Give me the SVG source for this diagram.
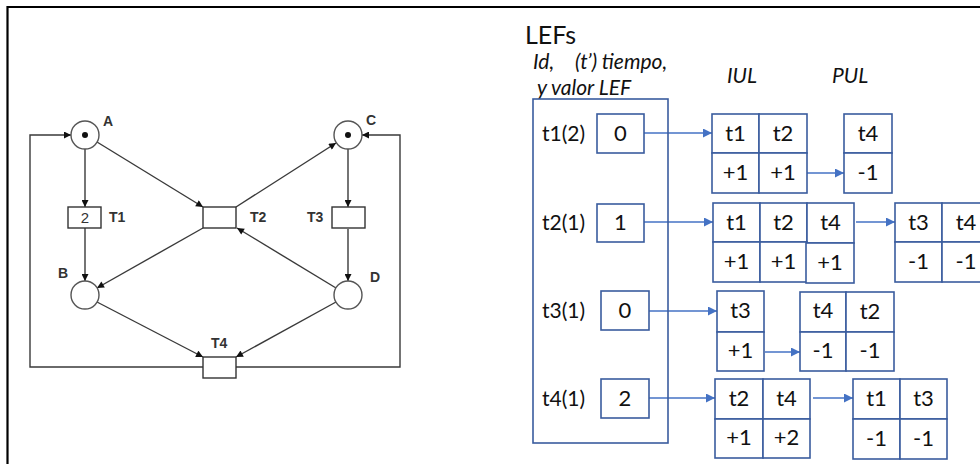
<svg xmlns="http://www.w3.org/2000/svg" width="980" height="464" viewBox="0 0 980 464">
<defs>
<style>
.pn{fill:none;stroke:#3a3a3a;stroke-width:1.4}
.pl{fill:#fff;stroke:#555;stroke-width:1.4}
.tr{fill:#fff;stroke:#333;stroke-width:1.4}
.lbl{font-family:"Liberation Sans",Arial,sans-serif;font-weight:bold;font-size:14px;fill:#333}
.c{fill:#fff;stroke:#3A5C9E;stroke-width:1.6}
.ct{font-family:Lato,"Liberation Sans",sans-serif;font-size:22px;fill:#111;text-anchor:middle}
.rl{font-family:Lato,"Liberation Sans",sans-serif;font-size:21px;fill:#111}
.hd{font-family:Lato,"Liberation Sans",sans-serif;font-size:21px;font-style:italic;fill:#111}
.ba{fill:none;stroke:#4472C4;stroke-width:1.4}
</style>
<marker id="ah" viewBox="0 0 10 10" refX="10" refY="5" markerWidth="8" markerHeight="7" orient="auto" markerUnits="userSpaceOnUse">
<path d="M0,0 L10,5 L0,10 z" fill="#111"/>
</marker>
<marker id="bh" viewBox="0 0 10 10" refX="10" refY="5" markerWidth="10" markerHeight="9" orient="auto" markerUnits="userSpaceOnUse">
<path d="M0,0 L10,5 L0,10 z" fill="#4472C4"/>
</marker>
</defs>
<rect width="980" height="464" fill="#fff"/>
<path d="M7.5,464 V7 H980" fill="none" stroke="#000" stroke-width="2.2"/>

<!-- Petri net connectors -->
<g id="pn-arcs">
<path class="pn" d="M85,149 V207" marker-end="url(#ah)"/>
<path class="pn" d="M97,142 L203,207" marker-end="url(#ah)"/>
<path class="pn" d="M236,207 L336,143" marker-end="url(#ah)"/>
<path class="pn" d="M348,149 V207" marker-end="url(#ah)"/>
<path class="pn" d="M85,228 V281" marker-end="url(#ah)"/>
<path class="pn" d="M348,229 V281" marker-end="url(#ah)"/>
<path class="pn" d="M203,228 L97,288" marker-end="url(#ah)"/>
<path class="pn" d="M336,288 L237,228" marker-end="url(#ah)"/>
<path class="pn" d="M97,302 L203,357" marker-end="url(#ah)"/>
<path class="pn" d="M336,302 L236,357" marker-end="url(#ah)"/>
<path class="pn" d="M203,367 H30 V135 H71" marker-end="url(#ah)"/>
<path class="pn" d="M236,367 H400 V135 H362" marker-end="url(#ah)"/>
</g>

<g id="A"><circle class="pl" cx="85" cy="135" r="14"/><circle cx="85" cy="135" r="3" fill="#111"/><text class="lbl" x="103" y="126">A</text></g>
<g id="C"><circle class="pl" cx="348" cy="135" r="14"/><circle cx="348" cy="135" r="3" fill="#111"/><text class="lbl" x="366" y="125">C</text></g>
<g id="B"><circle class="pl" cx="85" cy="295" r="14"/><text class="lbl" x="58" y="278">B</text></g>
<g id="D"><circle class="pl" cx="348" cy="295" r="14"/><text class="lbl" x="370" y="282">D</text></g>
<g id="T1"><rect class="tr" x="68" y="207" width="33" height="21"/><text x="85" y="223" font-family="Liberation Sans,Arial,sans-serif" font-size="15" fill="#333" text-anchor="middle">2</text><text class="lbl" x="109" y="222">T1</text></g>
<g id="T2"><rect class="tr" x="203" y="207" width="33" height="21"/><text class="lbl" x="250" y="222">T2</text></g>
<g id="T3"><rect class="tr" x="332" y="207" width="33" height="21"/><text class="lbl" x="307" y="222">T3</text></g>
<g id="T4"><rect class="tr" x="203" y="357" width="33" height="21"/><text class="lbl" x="211" y="348">T4</text></g>

<!-- LEFs -->
<g id="headers">
<text x="525" y="44" font-family="Lato,'Liberation Sans',sans-serif" font-size="25" fill="#111">LEFs</text>
<text class="hd" x="533" y="69">Id,</text>
<text class="hd" x="575" y="69">(t’) tiempo,</text>
<text class="hd" x="537" y="95">y valor LEF</text>
<text class="hd" x="727" y="83">IUL</text>
<text class="hd" x="832" y="83">PUL</text>
</g>

<g id="lef-arrows">
<path class="ba" d="M644,133 H712" marker-end="url(#bh)"/>
<path class="ba" d="M644,222 H713" marker-end="url(#bh)"/>
<path class="ba" d="M649,311 H717" marker-end="url(#bh)"/>
<path class="ba" d="M649,398 H715" marker-end="url(#bh)"/>
<path class="ba" d="M807,173 H844" marker-end="url(#bh)"/>
<path class="ba" d="M856,222 H895" marker-end="url(#bh)"/>
<path class="ba" d="M765,352 H800" marker-end="url(#bh)"/>
<path class="ba" d="M813,398 H853" marker-end="url(#bh)"/>
</g>

<g id="lef-list">
<rect x="533" y="99" width="135" height="344" fill="none" stroke="#3A5C9E" stroke-width="1.6"/>
<text class="rl" x="542" y="141">t1(2)</text>
<rect class="c" x="597" y="114" width="47" height="39"/><text class="ct" x="620.5" y="141">0</text>
<text class="rl" x="542" y="230">t2(1)</text>
<rect class="c" x="597" y="204" width="47" height="38"/><text class="ct" x="620.5" y="230">1</text>
<text class="rl" x="542" y="318">t3(1)</text>
<rect class="c" x="601" y="291" width="48" height="39"/><text class="ct" x="625" y="318">0</text>
<text class="rl" x="542" y="406">t4(1)</text>
<rect class="c" x="601" y="379" width="48" height="39"/><text class="ct" x="625" y="406">2</text>
</g>

<g id="iul1">
<rect class="c" x="712" y="114" width="47" height="39"/><rect class="c" x="759" y="114" width="48" height="39"/>
<rect class="c" x="712" y="153" width="47" height="40"/><rect class="c" x="759" y="153" width="48" height="40"/>
<text class="ct" x="735.5" y="141">t1</text><text class="ct" x="783" y="141">t2</text>
<text class="ct" x="735.5" y="180">+1</text><text class="ct" x="783" y="180">+1</text>
</g>
<g id="pul1">
<rect class="c" x="844" y="114" width="48" height="39"/><rect class="c" x="844" y="153" width="48" height="40"/>
<text class="ct" x="868" y="141">t4</text><text class="ct" x="868" y="180">-1</text>
</g>

<g id="iul2">
<rect class="c" x="713" y="203" width="47" height="39"/><rect class="c" x="760" y="203" width="47" height="39"/><rect class="c" x="807" y="203" width="47" height="40"/>
<rect class="c" x="713" y="242" width="47" height="40"/><rect class="c" x="760" y="242" width="47" height="40"/><rect class="c" x="806" y="243" width="48" height="40"/>
<text class="ct" x="736.5" y="230">t1</text><text class="ct" x="783.5" y="230">t2</text><text class="ct" x="830.5" y="230">t4</text>
<text class="ct" x="736.5" y="269">+1</text><text class="ct" x="783.5" y="269">+1</text><text class="ct" x="830" y="270">+1</text>
</g>
<g id="pul2">
<rect class="c" x="895" y="203" width="47" height="39"/><rect class="c" x="942" y="203" width="48" height="39"/>
<rect class="c" x="895" y="242" width="47" height="40"/><rect class="c" x="942" y="242" width="48" height="40"/>
<text class="ct" x="918.5" y="230">t3</text><text class="ct" x="966" y="230">t4</text>
<text class="ct" x="918.5" y="269">-1</text><text class="ct" x="966" y="269">-1</text>
</g>

<g id="iul3">
<rect class="c" x="717" y="291" width="47" height="41"/><rect class="c" x="717" y="332" width="47" height="39"/>
<text class="ct" x="740.5" y="318">t3</text><text class="ct" x="740.5" y="358">+1</text>
</g>
<g id="pul3">
<rect class="c" x="800" y="292" width="46" height="40"/><rect class="c" x="846" y="292" width="48" height="40"/>
<rect class="c" x="800" y="332" width="46" height="39"/><rect class="c" x="846" y="332" width="48" height="39"/>
<text class="ct" x="823" y="318">t4</text><text class="ct" x="870" y="319">t2</text>
<text class="ct" x="823" y="358">-1</text><text class="ct" x="870" y="358">-1</text>
</g>

<g id="iul4">
<rect class="c" x="715" y="379" width="48" height="40"/><rect class="c" x="763" y="379" width="47" height="40"/>
<rect class="c" x="715" y="419" width="48" height="39"/><rect class="c" x="763" y="419" width="47" height="39"/>
<text class="ct" x="739" y="406">t2</text><text class="ct" x="786.5" y="406">t4</text>
<text class="ct" x="739" y="445">+1</text><text class="ct" x="786.5" y="445">+2</text>
</g>
<g id="pul4">
<rect class="c" x="853" y="379" width="47" height="40"/><rect class="c" x="900" y="379" width="47" height="40"/>
<rect class="c" x="853" y="419" width="47" height="40"/><rect class="c" x="900" y="419" width="47" height="40"/>
<text class="ct" x="876.5" y="406">t1</text><text class="ct" x="923.5" y="406">t3</text>
<text class="ct" x="876.5" y="446">-1</text><text class="ct" x="923.5" y="446">-1</text>
</g>
</svg>
